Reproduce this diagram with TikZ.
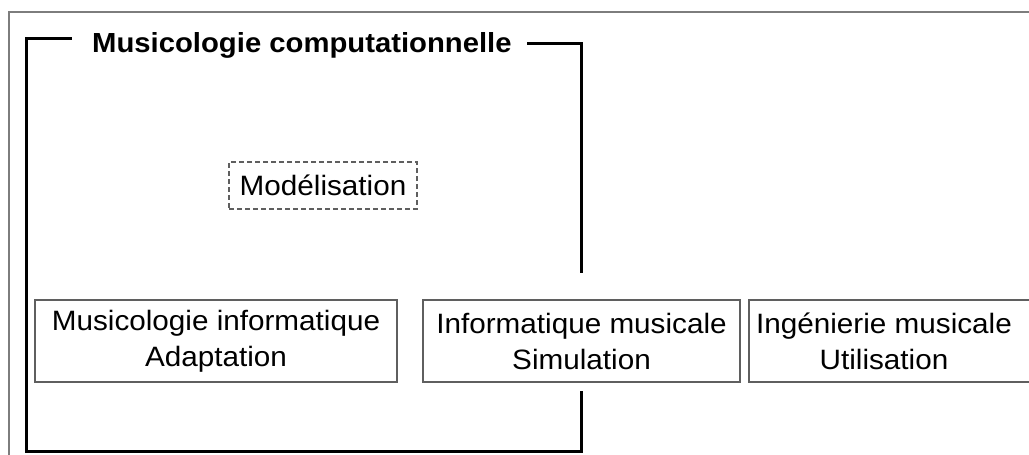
\documentclass[tikz,border=0pt]{standalone}
\usepackage{fontspec}
\setmainfont{Liberation Sans}[FakeStretch=1.06]
\definecolor{boxgray}{RGB}{95,95,95}
\definecolor{framegray}{RGB}{125,125,125}
\begin{document}
\begin{tikzpicture}[x=1pt,y=-1pt,
  txt/.style={font=\fontsize{28}{36}\selectfont, align=center, inner sep=0pt},
  box/.style={txt, draw=boxgray, line width=1.5pt},
  dashbox/.style={txt, draw=boxgray, line width=1.3pt, dash pattern=on 5pt off 3pt},
  bracket/.style={draw=black, line width=3pt, line cap=rect},
  frame/.style={draw=framegray, line width=2pt}]
\useasboundingbox (0,0) rectangle (1029,455);
\clip (0,0) rectangle (1029,455);
\fill[white] (0,0) rectangle (1029,455);
% outer frame (continues beyond the right and bottom edges)
\coordinate (fa) at (9,470);
\coordinate (fb) at (9,12);
\coordinate (fc) at (1045,12);
\draw[frame] (fa) -- (fb) -- (fc);
% title
\node[txt, font=\fontsize{27.6}{36}\selectfont\bfseries, anchor=base west] (title) at (92,52) {Musicologie computationnelle};
% boxes
\node[dashbox, minimum width=188pt, minimum height=47pt] (model) at (323,185.5) {Mod\'elisation};
\node[box, minimum width=362pt, minimum height=82pt] (adapt) at (216,341) {Musicologie informatique\\Adaptation};
\node[box, minimum width=317pt, minimum height=82pt] (simul) at (581.5,341) {Informatique musicale\\Simulation};
\draw[draw=boxgray, line width=1.5pt] (749,300) rectangle (1045,382);
\node[txt] (util) at (884,341) {Ing\'enierie musicale\\Utilisation};
% bracket
\coordinate (t1) at (70,38);
\coordinate (tl) at (26,38);
\coordinate (bl) at (26,451);
\coordinate (br) at (581,451);
\coordinate (bs) at (581,392);
\coordinate (t2) at (528,43);
\coordinate (tr) at (581,43);
\coordinate (ts) at (581,271);
\draw[bracket] (t1) -- (tl) -- (bl) -- (br) -- (bs);
\draw[bracket] (t2) -- (tr) -- (ts);
\end{tikzpicture}
\end{document}
